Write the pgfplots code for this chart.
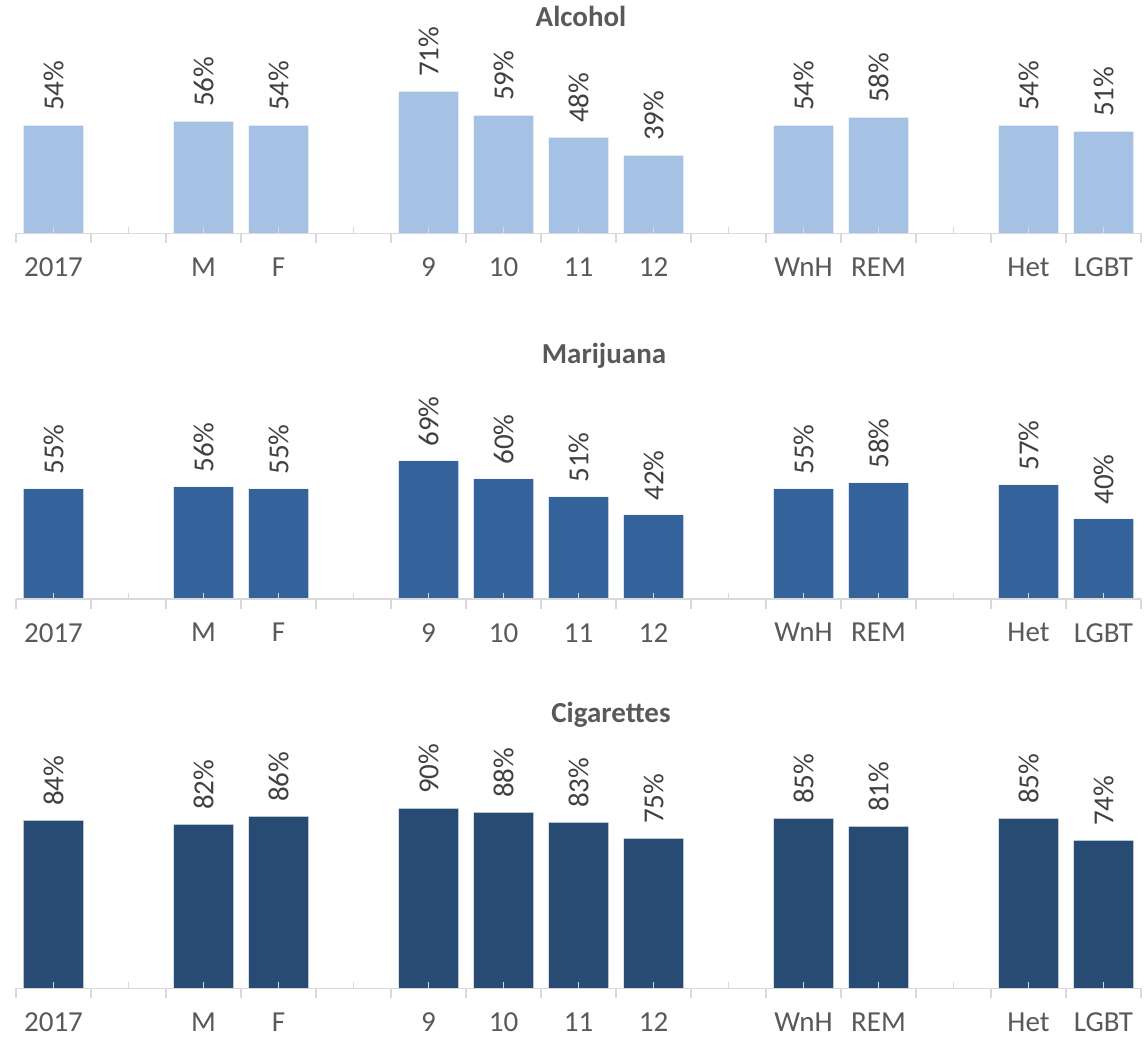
\documentclass[border=0pt]{standalone}
\usepackage{pgfplots}
\pgfplotsset{compat=1.18}
\usepackage{fontspec}
\setmainfont{Carlito}
\definecolor{cAlc}{HTML}{A5C1E4}
\definecolor{cMar}{HTML}{34629A}
\definecolor{cCig}{HTML}{284B74}
\definecolor{axisgray}{HTML}{D9D9D9}
\definecolor{labgray}{HTML}{595959}
\definecolor{datgray}{HTML}{404040}
\definecolor{titlegray}{HTML}{595959}
\pgfplotsset{
  panel/.style={
    scale only axis, width=562.5pt, height=100pt,
    xmin=-0.5, xmax=14.5, ymin=0, ymax=100,
    anchor=south west,
    axis on top,
    axis y line=none, axis x line*=bottom,
    axis line style={draw=axisgray, line width=0.75pt},
    xtick={-0.5,0.5,...,14.5}, xticklabels={},
    tick align=outside, major tick length=5pt,
    tick style={draw=axisgray, line width=0.75pt},
    extra x ticks={0,1,...,14},
    extra x tick labels={2017,,M,F,,9,10,11,12,,WnH,REM,,Het,LGBT},
    extra x tick style={tick align=inside, major tick length=3pt,
      tick style={draw=axisgray, line width=0.75pt}},
    xticklabel style={font=\fontsize{14.5}{16}\selectfont, text=labgray, anchor=north, inner sep=0pt, yshift=-12pt},
    ybar, bar width=30pt,
    clip=false,
    nodes near coords={\pgfmathprintnumber[assume math mode=true]{\pgfplotspointmeta}\%},
    nodes near coords style={rotate=90, anchor=west, inner xsep=7pt, inner ysep=0pt,
      font=\fontsize{14.5}{16}\selectfont, text=datgray},
  }
}
\begin{document}
\begin{tikzpicture}
\path[use as bounding box] (0,0) rectangle (573pt,518.5pt);
% Alcohol
\begin{axis}[panel, at={(8pt,401.75pt)}]
\addplot[fill=cAlc, draw=white, draw opacity=0.5, line width=0.5pt] coordinates {
(0,54) (2,56) (3,54) (5,71) (6,59) (7,48) (8,39) (10,54) (11,58) (13,54) (14,51)};
\end{axis}
% Marijuana
\begin{axis}[panel, at={(8pt,219pt)}]
\addplot[fill=cMar, draw=white, draw opacity=0.5, line width=0.5pt] coordinates {
(0,55) (2,56) (3,55) (5,69) (6,60) (7,51) (8,42) (10,55) (11,58) (13,57) (14,40)};
\end{axis}
% Cigarettes
\begin{axis}[panel, at={(8pt,24.35pt)}]
\addplot[fill=cCig, draw=white, draw opacity=0.5, line width=0.5pt] coordinates {
(0,84) (2,82) (3,86) (5,90) (6,88) (7,83) (8,75) (10,85) (11,81) (13,85) (14,74)};
\end{axis}
\node[anchor=base, font=\bfseries\fontsize{14.5}{17}\selectfont, text=titlegray] at (290.5pt,505pt) {Alcohol};
\node[anchor=base, font=\bfseries\fontsize{14.5}{17}\selectfont, text=titlegray] at (302pt,336.5pt) {Marijuana};
\node[anchor=base, font=\bfseries\fontsize{14.5}{17}\selectfont, text=titlegray] at (305.5pt,157pt) {Cigarettes};
\end{tikzpicture}
\end{document}
